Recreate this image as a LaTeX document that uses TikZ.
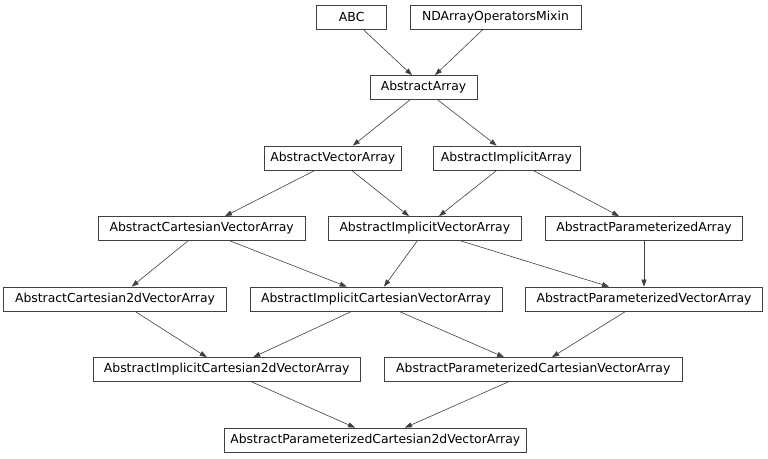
\documentclass[tikz,border=0pt]{standalone}
\usepackage{fontspec}
\setmainfont{DejaVu Sans}
\usetikzlibrary{arrows.meta}
\begin{document}
\begin{tikzpicture}[x=1pt,y=-1pt,
  cls/.style={draw=black!75,line width=0.75pt,rectangle,minimum height=24pt,inner sep=0pt,
    font=\fontsize{12.4}{14}\selectfont,text=black},
  edge/.style={draw=black!75,line width=0.6pt,-{Triangle[length=7pt,width=5pt]}}]
\useasboundingbox (0,0) rectangle (768,458);
% row 1
\node[cls,minimum width=70pt] (abc) at (351.7,17) {ABC};
\node[cls,minimum width=171pt] (nd) at (495.5,17) {NDArrayOperatorsMixin};
% row 2
\node[cls,minimum width=107pt] (aa) at (423.5,87.5) {AbstractArray};
% row 3
\node[cls,minimum width=137.7pt] (ava) at (332.8,158) {AbstractVectorArray};
\node[cls,minimum width=147pt] (aia) at (506.5,158) {AbstractImplicitArray};
% row 4
\node[cls,minimum width=206.7pt] (acva) at (201.7,228.5) {AbstractCartesianVectorArray};
\node[cls,minimum width=193.7pt] (aiva) at (424.8,228.5) {AbstractImplicitVectorArray};
\node[cls,minimum width=196.6pt] (apa) at (644,228.5) {AbstractParameterizedArray};
% row 5
\node[cls,minimum width=223.4pt] (ac2va) at (115,299) {AbstractCartesian2dVectorArray};
\node[cls,minimum width=252pt] (aicva) at (376,299) {AbstractImplicitCartesianVectorArray};
\node[cls,minimum width=236.6pt] (apva) at (644,299) {AbstractParameterizedVectorArray};
% row 6
\node[cls,minimum width=266.7pt] (aic2va) at (226.7,369.5) {AbstractImplicitCartesian2dVectorArray};
\node[cls,minimum width=298.7pt] (apcva) at (533.3,369.5) {AbstractParameterizedCartesianVectorArray};
% row 7
\node[cls,minimum width=302.7pt] (apc2va) at (375.3,440) {AbstractParameterizedCartesian2dVectorArray};
% edges
\draw[edge] ([xshift=11.3pt]abc.south) -- ([xshift=-11.5pt]aa.north);
\draw[edge] ([xshift=-12.5pt]nd.south) -- ([xshift=11.5pt]aa.north);
\draw[edge] ([xshift=-13.5pt]aa.south) -- ([xshift=20pt]ava.north);
\draw[edge] ([xshift=14.2pt]aa.south) -- ([xshift=-9.8pt]aia.north);
\draw[edge] ([xshift=-17.8pt]ava.south) -- ([xshift=23.3pt]acva.north);
\draw[edge] ([xshift=18.9pt]ava.south) -- ([xshift=-15.8pt]aiva.north);
\draw[edge] ([xshift=-9.8pt]aia.south) -- ([xshift=14.2pt]aiva.north);
\draw[edge] ([xshift=26.5pt]aia.south) -- ([xshift=-25pt]apa.north);
\draw[edge] ([xshift=-13.7pt]acva.south) -- ([xshift=16.7pt]ac2va.north);
\draw[edge] ([xshift=28.3pt]acva.south) -- ([xshift=-29.3pt]aicva.north);
\draw[edge] ([xshift=-7.5pt]aiva.south) -- ([xshift=8pt]aicva.north);
\draw[edge] ([xshift=35.9pt]aiva.south) -- ([xshift=-35pt]apva.north);
\draw[edge] (apa.south) -- (apva.north);
\draw[edge] ([xshift=20pt]ac2va.south) -- ([xshift=-20pt]aic2va.north);
\draw[edge] ([xshift=-24.3pt]aicva.south) -- ([xshift=26.6pt]aic2va.north);
\draw[edge] ([xshift=23pt]aicva.south) -- ([xshift=-29.3pt]apcva.north);
\draw[edge] ([xshift=-18.3pt]apva.south) -- ([xshift=18.7pt]apcva.north);
\draw[edge] ([xshift=25pt]aic2va.south) -- ([xshift=-20.3pt]apc2va.north);
\draw[edge] ([xshift=-25pt]apcva.south) -- ([xshift=29.7pt]apc2va.north);
\end{tikzpicture}
\end{document}
